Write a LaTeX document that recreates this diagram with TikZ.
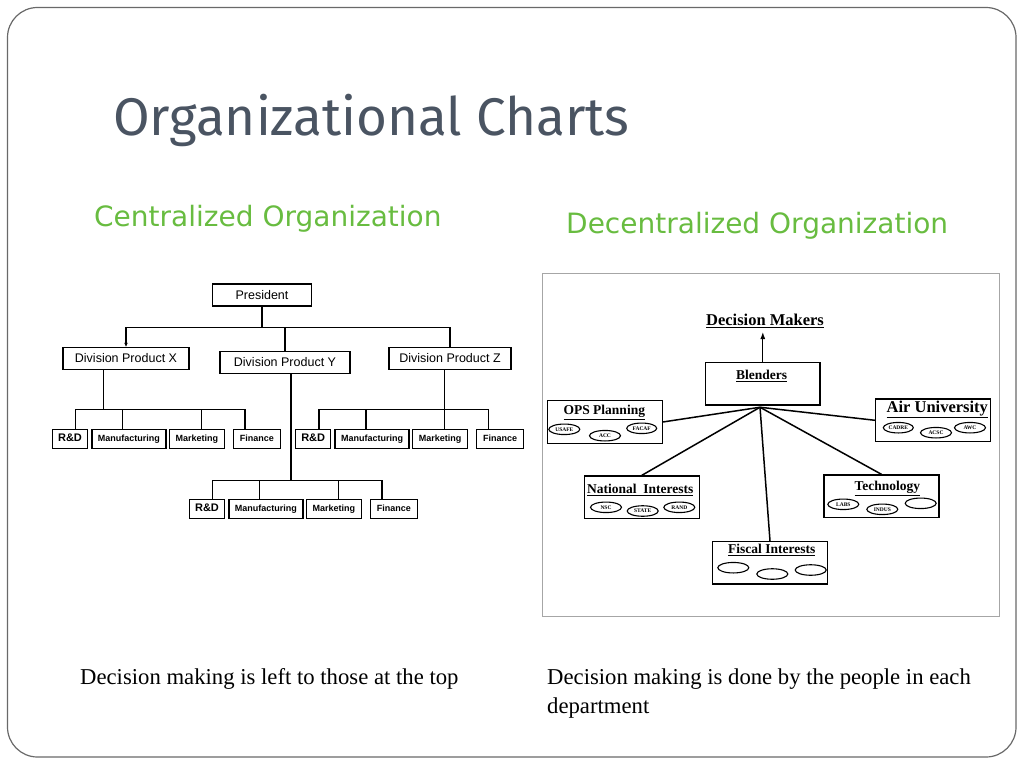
\documentclass[tikz,border=0pt]{standalone}
\usepackage{fontspec}
\setmainfont{Liberation Serif}
\newfontfamily\chartfont{Liberation Sans}
\newfontfamily\headfont{Fira Sans}
\newfontfamily\subheadfont{DejaVu Sans}
\usepackage{tikz}
\usetikzlibrary{arrows.meta, positioning, shapes.geometric, calc}

\definecolor{slate}{RGB}{74,84,98}
\definecolor{leaf}{RGB}{104,188,64}
\definecolor{framegray}{RGB}{105,105,105}

\begin{document}
\begin{tikzpicture}[
    x=1pt, y=-1pt,
    link/.style={line width=1.3pt},
    topbox/.style={draw, line width=1.3pt, inner sep=0pt, minimum height=22pt,
      font=\chartfont\fontsize{12.5}{14}\selectfont},
    unit/.style={draw, line width=1.3pt, inner sep=0pt, outer sep=0pt, minimum height=19pt,
      text height=7.5pt, text depth=2pt, font=\chartfont\bfseries\fontsize{9}{10}\selectfont},
    dept/.style={draw, line width=1.2pt, inner sep=0pt, minimum width=115pt, minimum height=42.5pt},
    depttitle/.style={inner sep=0pt, font=\bfseries\fontsize{13.5}{15}\selectfont},
    agency/.style={ellipse, draw, line width=1.1pt, inner sep=0pt, minimum width=31pt,
      minimum height=10.5pt, font=\bfseries\fontsize{5.5}{6}\selectfont},
    spoke/.style={line width=1.5pt}
  ]
  \useasboundingbox (0,0) rectangle (1024,768);
  \draw[framegray, line width=1.2pt, rounded corners=30pt] (7.5,7.5) rectangle (1016,757);

  % headings
  \node[anchor=base west, inner sep=0pt, text=slate, font=\headfont\fontsize{53}{58}\selectfont]
    (title) at (113,135) {Organizational Charts};
  \node[anchor=base west, inner sep=0pt, text=leaf, font=\subheadfont\fontsize{28}{30}\selectfont]
    (centr) at (94,226.7) {Centralized Organization};
  \node[anchor=base west, inner sep=0pt, text=leaf, font=\subheadfont\fontsize{28}{30}\selectfont]
    (decentr) at (566,233.3) {Decentralized Organization};

  % centralized chart
  \node[topbox, minimum width=99pt] (pres) at (262,295) {President};
  \node[topbox, minimum width=126pt] (divX) at (126,358.3) {Division Product X};
  \node[topbox, minimum width=130pt] (divY) at (285,362.5) {Division Product Y};
  \node[topbox, minimum width=122pt] (divZ) at (450,358.3) {Division Product Z};

  \coordinate (bus) at ($(pres.south)+(0,20.7)$);
  \draw[link] (pres.south) -- (bus);
  \draw[link, -{Stealth[length=4pt,width=3.5pt]}] (bus) -| (divX.north);
  \draw[link] (bus) -| (divZ.north);
  \draw[link] (bus -| divY.north) -- (divY.north);

  \foreach \d/\xx/\yy in {X/70/438.8, Y/207/509.2, Z/313.2/438.8}{
    \node[unit, minimum width=35pt, font=\chartfont\bfseries\fontsize{11}{12}\selectfont]
      (rd\d) at (\xx,\yy) {R\&D};
    \node[unit, minimum width=74pt, right=4.4pt of rd\d] (mf\d) {Manufacturing};
    \node[unit, minimum width=55pt, right=3.4pt of mf\d] (mk\d) {Marketing};
    \node[unit, minimum width=47pt, right=9pt of mk\d] (fn\d) {Finance};
    \draw[link] ($(rd\d.north)+(5.7,0)$) -- ++(0,-19.5) -| ($(fn\d.north)+(-11.8,0)$);
    \draw[link] ($(mf\d.north)+(-6.1,0)$) -- ++(0,-19.5);
    \draw[link] ($(mk\d.north)+(4.7,0)$) -- ++(0,-19.5);
  }
  \draw[link] ($(divX.south)+(-22.7,0)$) |- ($(rdX.north)+(5.7,-19.5)$);
  \draw[link] ($(divY.south)+(6,0)$) |- ($(rdY.north)+(5.7,-19.5)$);
  \draw[link] ($(divZ.south)+(-5.7,0)$) |- ($(rdZ.north)+(5.7,-19.5)$);

  % decentralized chart
  \node[draw=gray!70, line width=1pt, inner sep=0pt, minimum width=456.6pt, minimum height=343.4pt]
    (panel) at (771,445) {};
  \node[inner sep=4pt, font=\bfseries\fontsize{16.5}{18}\selectfont] (dm) at (765,321) {\underline{Decision Makers}};
  \node[dept, minimum width=114.3pt, minimum height=42.3pt] (blend) at (762.8,383.8) {};
  \node[depttitle] (blendT) at (761.7,376) {\underline{Blenders}};
  \draw[line width=1.1pt, -{Latex[length=7pt,width=5pt]}] (blend.north) -- (blend.north |- dm.south);

  \node[dept] (ops) at (604.7,422) {};
  \node[dept] (air) at (933.2,420.3) {};
  \node[dept] (nat) at (641.8,497.2) {};
  \node[dept] (tech) at (881.5,496.2) {};
  \node[dept] (fis) at (770,562.8) {};

  \node[depttitle] (opsT) at (604.3,412.7) {\underline{OPS Planning}};
  \node[depttitle, font=\bfseries\fontsize{16.5}{18}\selectfont] (airT) at (937.3,409.3) {\underline{Air University}};
  \node[depttitle] (natT) at (640.3,490) {\underline{National\ \ Interests}};
  \node[depttitle] (techT) at (887.3,488.3) {\underline{Technology}};
  \node[depttitle] (fisT) at (771.7,550) {\underline{Fiscal Interests}};

  \node[agency] (usafe) at (564.3,429.3) {USAFE};
  \node[agency] (acc) at (605,435.7) {ACC};
  \node[agency, minimum width=30pt] (facaf) at (641.7,428.3) {FACAF};
  \node[agency, minimum width=30pt] (cadre) at (898.3,427.7) {CADRE};
  \node[agency] (acsc) at (936,432.7) {ACSC};
  \node[agency] (awc) at (970,427.7) {AWC};
  \node[agency] (nsc) at (606,507.3) {NSC};
  \node[agency] (state) at (642.7,511) {STATE};
  \node[agency] (rand) at (679.3,507.3) {RAND};
  \node[agency] (labs) at (843.3,504.3) {LABS};
  \node[agency] (indus) at (882.3,509.3) {INDUS};
  \node[agency] (techC) at (920.7,503.3) {};
  \node[agency] (fisA) at (733.3,567.7) {};
  \node[agency] (fisB) at (772.3,574) {};
  \node[agency] (fisC) at (810.7,570) {};

  \coordinate (hub) at ($(blend.south)+(-2.8,1.7)$);
  \draw[spoke] (hub) -- (ops.east);
  \draw[spoke] (hub) -- (nat.north);
  \draw[spoke] (hub) -- (fis.north);
  \draw[spoke] (hub) -- (tech.north);
  \draw[spoke] (hub) -- (air.west);

  % notes
  \node[anchor=base west, inner sep=0pt, font=\fontsize{22.7}{30}\selectfont]
    (leftnote) at (80,684) {Decision making is left to those at the top};
  \node[anchor=base west, inner sep=0pt, font=\fontsize{22.7}{30}\selectfont]
    (rightnote) at (547,684) {Decision making is done by the people in each};
  \node[anchor=base west, inner sep=0pt, font=\fontsize{22.7}{30}\selectfont]
    (rightnote2) at (547,713.5) {department};
\end{tikzpicture}
\end{document}
